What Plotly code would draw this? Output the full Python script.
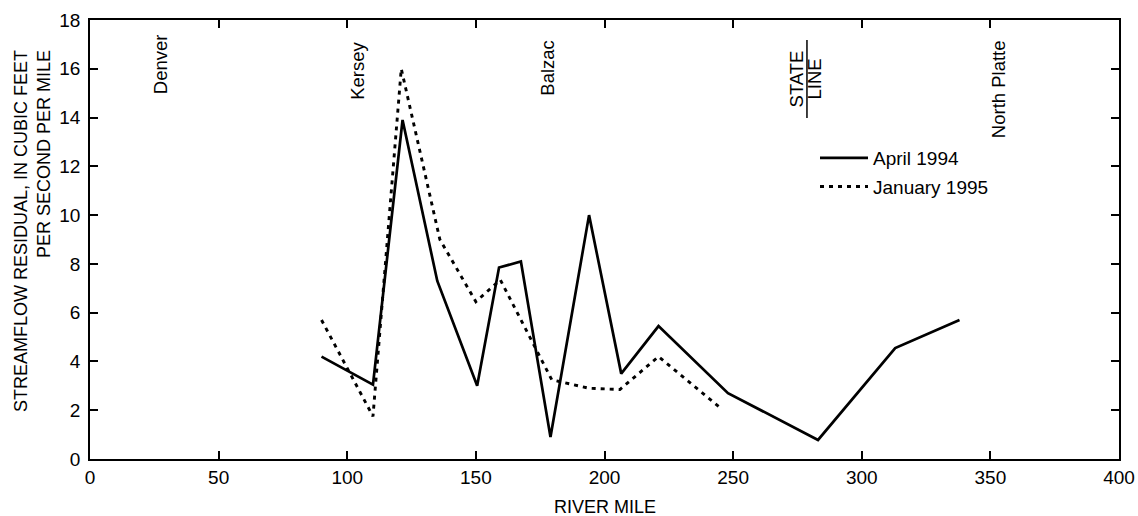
import plotly.graph_objects as go

# ---- data ----
april_mile = [90, 110, 121.5, 135, 150.5, 159, 167.5, 179, 194, 206.5, 221, 248, 283, 313, 338]
april_resid = [4.2, 3.05, 13.9, 7.3, 3.0, 7.85, 8.1, 0.9, 10.0, 3.5, 5.45, 2.7, 0.78, 4.55, 5.7]

jan_mile = [90, 110, 121, 136, 150, 159.5, 179.5, 194, 206, 221, 245]
jan_resid = [5.7, 1.75, 16.0, 9.0, 6.45, 7.35, 3.25, 2.9, 2.85, 4.2, 2.1]

places = ["Denver", "Kersey", "Balzac", "North Platte"]
place_mile = [27.2, 103.7, 177.5, 353.0]
place_top = [17.5, 17.18, 17.26, 17.26]

state_line_mile = 278.7

x_ticks = [0, 50, 100, 150, 200, 250, 300, 350, 400]
y_ticks = [0, 2, 4, 6, 8, 10, 12, 14, 16, 18]

FONT = "Liberation Sans, Arial, sans-serif"

fig = go.Figure()
fig.add_trace(go.Scatter(x=april_mile, y=april_resid, mode="lines", name="April 1994",
                         legendgroup="a",
                         line=dict(color="black", width=2.7)))
fig.add_trace(go.Scatter(x=jan_mile, y=jan_resid, mode="lines", name="January 1995",
                         legendgroup="b",
                         line=dict(color="black", width=2.9, dash="4px,5px")))

ann = []
for name, xm, yt in zip(places, place_mile, place_top):
    ann.append(dict(x=xm, y=yt, xref="x", yref="y", text=name, showarrow=False,
                    textangle=-90, xanchor="center", yanchor="top",
                    font=dict(size=18.5, color="black", family=FONT)))
ann.append(dict(x=state_line_mile - 4.1, y=15.58, xref="x", yref="y", text="STATE", showarrow=False,
                textangle=-90, xanchor="center", yanchor="middle",
                font=dict(size=18.5, color="black", family=FONT)))
ann.append(dict(x=state_line_mile + 3.1, y=15.6, xref="x", yref="y", text="LINE", showarrow=False,
                textangle=-90, xanchor="center", yanchor="middle",
                font=dict(size=18.5, color="black", family=FONT)))
ann.append(dict(x=-0.0565, y=0.936, xref="paper", yref="paper",
                text="STREAMFLOW RESIDUAL, IN CUBIC FEET<br>PER SECOND PER MILE",
                showarrow=False, textangle=-90, align="right",
                xanchor="center", yanchor="top",
                font=dict(size=18, color="black", family=FONT)))
ann.append(dict(x=0.5, y=-0.11, xref="paper", yref="paper", text="RIVER MILE",
                showarrow=False, xanchor="center", yanchor="middle",
                font=dict(size=18, color="black", family=FONT)))

fig.update_layout(
    width=1138, height=516,
    margin=dict(l=90, r=19, t=20, b=57, autoexpand=False),
    paper_bgcolor="white", plot_bgcolor="white",
    font=dict(family=FONT, size=18, color="black"),
    showlegend=True,
    legend=dict(x=(815 - 90) / 1029, y=(459 - 139) / 439, xanchor="left", yanchor="top",
                bgcolor="rgba(0,0,0,0)", font=dict(size=19, color="black", family=FONT),
                itemwidth=48, tracegroupgap=1),
    annotations=ann,
    shapes=[dict(type="line", xref="x", yref="y", x0=state_line_mile, x1=state_line_mile,
                 y0=13.98, y1=17.18, line=dict(color="black", width=1.5))],
)
fig.update_xaxes(range=[0, 400], tickvals=x_ticks, ticks="inside", ticklen=8, tickwidth=1.5,
                 tickcolor="black", showline=True, linecolor="black", linewidth=1.8,
                 mirror="ticks", showgrid=False, zeroline=False, automargin=False,
                 tickfont=dict(size=19, color="black", family=FONT))
fig.update_yaxes(range=[0, 18], tickvals=y_ticks, ticks="inside", ticklen=8, tickwidth=1.5,
                 tickcolor="black", showline=True, linecolor="black", linewidth=1.8,
                 mirror="ticks", showgrid=False, zeroline=False, automargin=False,
                 ticklabelstandoff=4,
                 tickfont=dict(size=19, color="black", family=FONT))

fig.write_html("out.html")
